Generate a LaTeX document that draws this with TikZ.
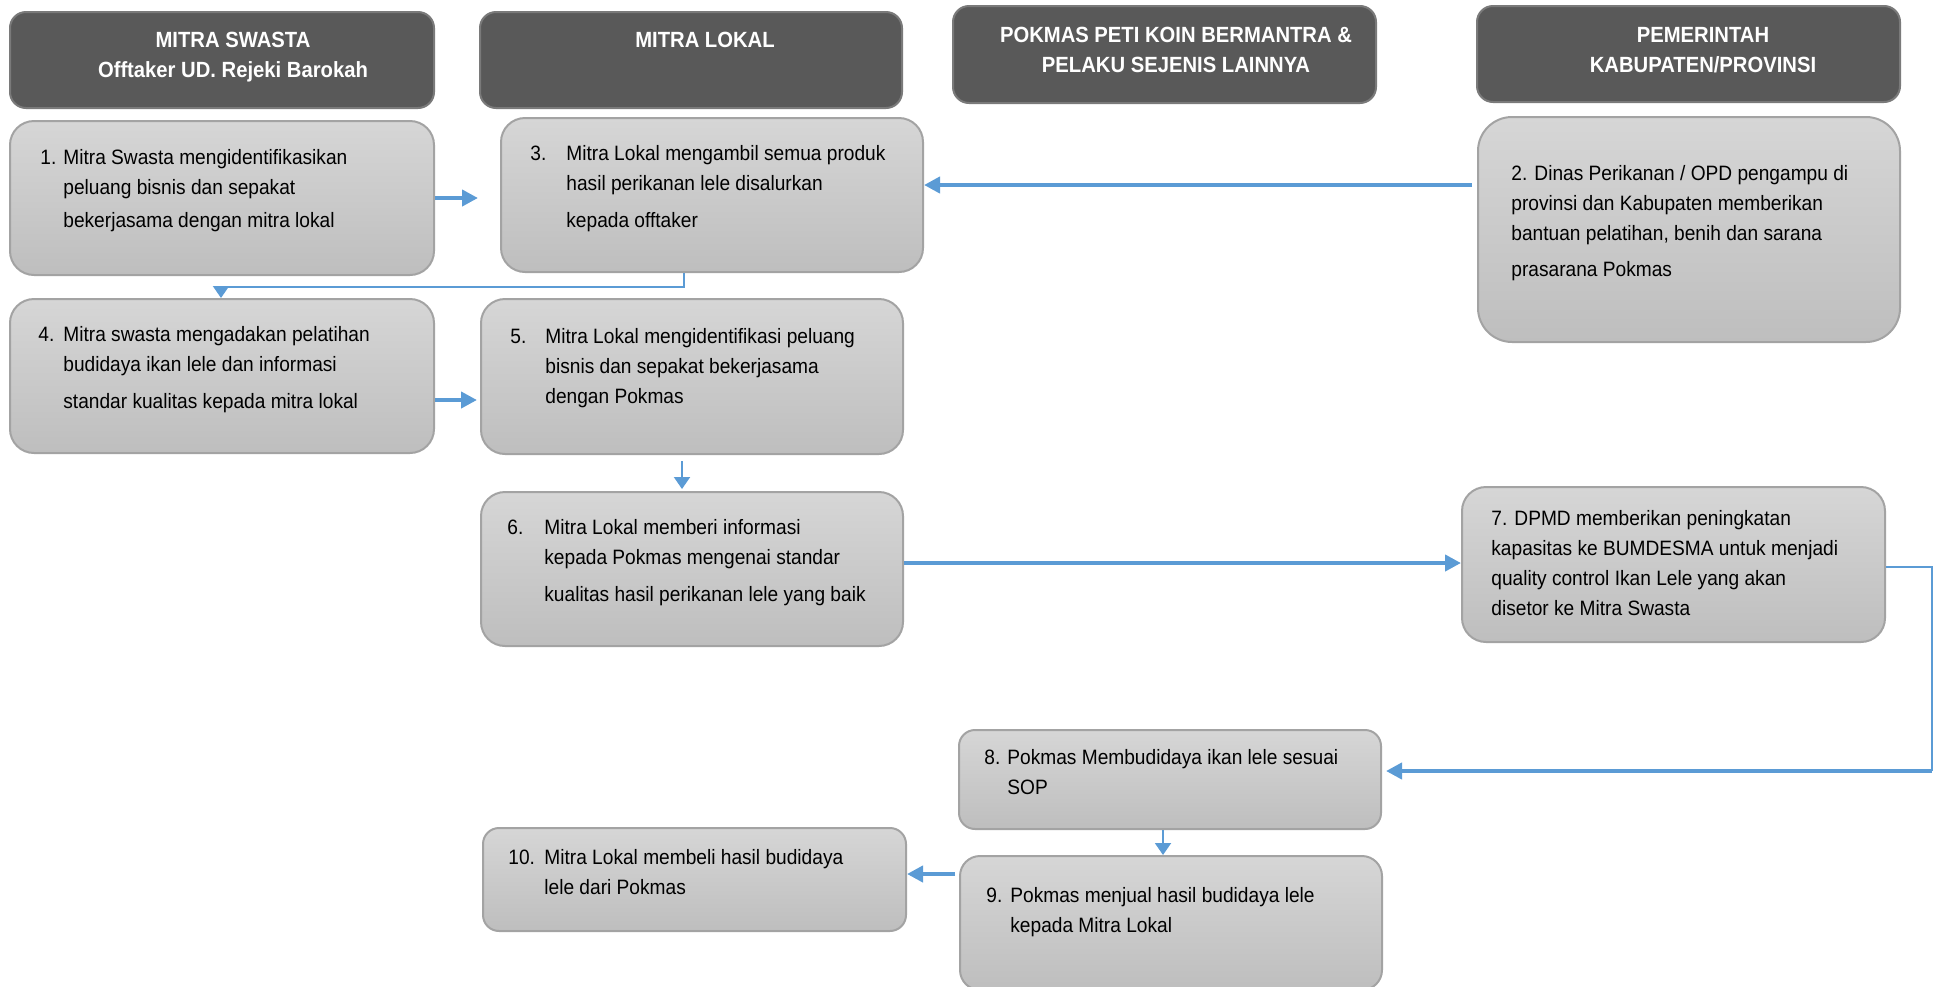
\documentclass[tikz,border=0pt]{standalone}
\usepackage{fontspec}
\setmainfont[FakeStretch=0.92]{Liberation Sans}
\usetikzlibrary{arrows.meta}
\definecolor{arrowblue}{HTML}{5B9BD5}
\definecolor{boxtop}{HTML}{D6D6D6}
\definecolor{boxbot}{HTML}{BEBEBE}
\definecolor{boxline}{HTML}{A3A3A3}
\definecolor{headfill}{HTML}{595959}
\definecolor{headline}{HTML}{7A7A7A}
\newcommand\stepfont{\fontsize{10.4}{15}\selectfont}
\newcommand\hdfont{\fontsize{11}{15}\selectfont\bfseries}
\newcommand\numtab[2]{\begin{tabular}[t]{@{}p{#1}@{}l@{}}#2\end{tabular}}
\newcommand\plaintab[1]{\begin{tabular}[t]{@{}l@{}}#1\end{tabular}}
\newcommand\headtab[1]{\begin{tabular}[t]{@{}c@{}}#1\end{tabular}}
% style, x1, y1, x2, y2, name, radius
\newcommand\placebox[7]{\node[#1, rounded corners=#7, minimum width={(#4-#2)*0.5pt}, minimum height={(#5-#3)*0.5pt}] (#6) at ({(#2+#4)/2},{(#3+#5)/2}) {};}
\tikzset{
  stepbox/.style={draw=boxline, line width=1pt, top color=boxtop, bottom color=boxbot, inner sep=0pt},
  headbox/.style={draw=headline, line width=1pt, fill=headfill, inner sep=0pt},
  txt/.style={inner sep=0pt, anchor=base west, font=\stepfont, text=black},
  hdtxt/.style={inner sep=0pt, anchor=base, font=\hdfont, text=white},
  bigarrow/.style={draw=arrowblue, line width=2pt, -{Triangle[length=8pt,width=8pt]}},
  thinarrow/.style={draw=arrowblue, line width=1pt, -{Triangle[length=6pt,width=8pt]}},
  thinline/.style={draw=arrowblue, line width=1pt}
}
\begin{document}
\begin{tikzpicture}[x=0.5pt,y=-0.5pt]
\useasboundingbox (0,0) rectangle (1933,986);
% headers
\placebox{headbox}{10}{12}{434}{108}{hd1}{8pt}
\placebox{headbox}{480}{12}{902}{108}{hd2}{8pt}
\placebox{headbox}{953}{6}{1376}{103}{hd3}{8pt}
\placebox{headbox}{1477}{6}{1900}{102}{hd4}{8pt}
\node[hdtxt] (h1) at (233,47) {\headtab{MITRA SWASTA\\ Offtaker UD. Rejeki Barokah}};
\node[hdtxt] (h2) at (705,47) {\headtab{MITRA LOKAL}};
\node[hdtxt] (h3) at (1176,42) {\headtab{POKMAS PETI KOIN BERMANTRA \&\\ PELAKU SEJENIS LAINNYA}};
\node[hdtxt] (h4) at (1703,42) {\headtab{PEMERINTAH\\ KABUPATEN/PROVINSI}};
% step boxes
\placebox{stepbox}{10}{121}{434}{275}{b1}{12pt}
\placebox{stepbox}{1478}{117}{1900}{342}{b2}{17pt}
\placebox{stepbox}{501}{118}{923}{272}{b3}{12pt}
\placebox{stepbox}{10}{299}{434}{453}{b4}{12pt}
\placebox{stepbox}{481}{299}{903}{454}{b5}{12pt}
\placebox{stepbox}{481}{492}{903}{646}{b6}{12pt}
\placebox{stepbox}{1462}{487}{1885}{642}{b7}{12pt}
\placebox{stepbox}{959}{730}{1381}{829}{b8}{8pt}
\placebox{stepbox}{960}{856}{1382}{990}{b9}{10pt}
\placebox{stepbox}{483}{828}{906}{931}{b10}{8pt}
% texts
\node[txt] (t1) at (40,164) {\numtab{11.5pt}{1. & Mitra Swasta mengidentifikasikan\\ & peluang bisnis dan sepakat\\[1.5pt] & bekerjasama dengan mitra lokal}};
\node[txt] (t2) at (1511,180) {\plaintab{2. Dinas Perikanan / OPD pengampu di\\ provinsi dan Kabupaten memberikan\\ bantuan pelatihan, benih dan sarana\\[3pt] prasarana Pokmas}};
\node[txt] (t3) at (530,160) {\numtab{18pt}{3. & Mitra Lokal mengambil semua produk\\ & hasil perikanan lele disalurkan\\[3.5pt] & kepada offtaker}};
\node[txt] (t4) at (38,341) {\numtab{12.5pt}{4. & Mitra swasta mengadakan pelatihan\\ & budidaya ikan lele dan informasi\\[3.5pt] & standar kualitas kepada mitra lokal}};
\node[txt] (t5) at (510,343) {\numtab{17.5pt}{5. & Mitra Lokal mengidentifikasi peluang\\ & bisnis dan sepakat bekerjasama\\ & dengan Pokmas}};
\node[txt] (t6) at (507,534) {\numtab{18.5pt}{6. & Mitra Lokal memberi informasi\\ & kepada Pokmas mengenai standar\\[3.5pt] & kualitas hasil perikanan lele yang baik}};
\node[txt] (t7) at (1491,525) {\plaintab{7. DPMD memberikan peningkatan\\ kapasitas ke BUMDESMA untuk menjadi\\ quality control Ikan Lele yang akan\\ disetor ke Mitra Swasta}};
\node[txt] (t8) at (984,764) {\numtab{11.5pt}{8. & Pokmas Membudidaya ikan lele sesuai\\ & SOP}};
\node[txt] (t9) at (986,902) {\numtab{12pt}{9. & Pokmas menjual hasil budidaya lele\\ & kepada Mitra Lokal}};
\node[txt] (t10) at (508,864) {\numtab{18pt}{10. & Mitra Lokal membeli hasil budidaya\\ & lele dari Pokmas}};
% connectors
\draw[bigarrow, shorten >=11pt] (b1.east) -- (b1.east -| b3.west);
\coordinate (y23) at (0,185);
\draw[bigarrow, shorten <=2.5pt] (b2.west |- y23) -- (b3.east |- y23);
\coordinate (k34a) at (684,287);
\coordinate (k34b) at (221,287);
\draw[thinarrow] (b3.south -| k34a) -- (k34a) -- (k34b) -- (b4.north -| k34b);
\coordinate (y45) at (0,400);
\draw[bigarrow, shorten >=1.5pt] (b4.east |- y45) -- (b5.west |- y45);
\coordinate (x56) at (682,0);
\draw[thinarrow, shorten <=3pt, shorten >=1pt] (b5.south -| x56) -- (b6.north -| x56);
\coordinate (y67) at (0,563);
\draw[bigarrow] (b6.east |- y67) -- (b7.west |- y67);
\coordinate (k78a) at (1931.5,567);
\coordinate (k78b) at (1931.5,771);
\draw[thinline] (b7.east |- k78a) -- (k78a) -- (k78b);
\draw[bigarrow, shorten >=2pt] (k78b) -- (b8.east |- k78b);
\coordinate (x89) at (1163,0);
\draw[thinarrow] (b8.south -| x89) -- (b9.north -| x89);
\coordinate (y910) at (0,874);
\draw[bigarrow, shorten <=2pt] (b9.west |- y910) -- (b10.east |- y910);
\end{tikzpicture}
\end{document}
